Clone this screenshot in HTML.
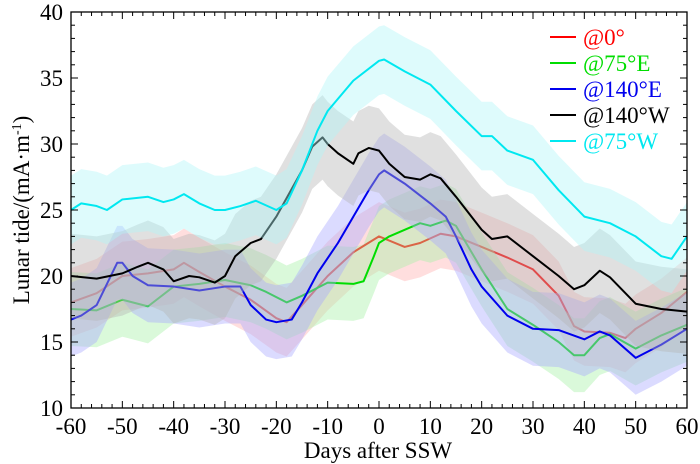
<!DOCTYPE html>
<html><head><meta charset="utf-8"><style>
body{margin:0;background:#fff}
svg{display:block;font-family:"Liberation Serif",serif}
</style></head><body>
<svg id="chart" width="700" height="464"></svg>
<script>
const redDays=[-60,-55,-50,-45,-40,-38,-35,-30,-25,-20,-18,-15,-10,-5,0,5,8,12,15,20,25,30,35,38,40,45,48,50,55,60];
const redVals=[18,18.7,20,20.2,20.5,21,20.3,19.2,18.2,16.8,16.5,17.8,20,21.8,23,22.2,22.5,23.2,23,22.2,21.4,20.5,18.5,16.2,15.8,15.7,15.3,16,17.2,18.8];
const greenDays=[-60,-55,-50,-45,-40,-35,-30,-25,-22,-18,-15,-10,-5,-3,-1,0,2,5,8,10,13,15,20,25,30,35,38,40,43,45,50,55,60];
const greenVals=[17.5,17.4,18.2,17.7,19.2,19.4,19.7,19.3,18.8,18,18.5,19.5,19.4,19.6,21.5,22.5,23,23.5,24,23.8,24.2,23.8,20.5,17.5,16.3,15,14,14,15.3,15.6,14.5,15.5,16.3];
const blueDays=[-60,-58,-55,-51,-50,-48,-45,-40,-35,-30,-27,-25,-22,-20,-17,-15,-12,-8,-5,-2,0,1,5,10,13,15,18,20,25,30,35,40,43,45,50,55,60];
const blueVals=[16.7,17,17.8,21,21,20,19.3,19.2,18.9,19.2,19.2,17.8,16.7,16.5,16.7,18,20.2,22.5,24.5,26.5,27.7,28,27,25.5,24.5,23,20.5,19.2,17,16,15.9,15.2,15.8,15.5,13.8,14.8,16];
const blackDays=[-60,-55,-50,-47,-45,-42,-40,-37,-35,-32,-30,-28,-25,-23,-20,-15,-13,-11,-10,-8,-5,-4,-2,0,2,5,8,10,12,15,20,22,25,30,35,38,40,43,45,50,55,60];
const blackVals=[20,19.8,20.2,20.7,21,20.5,19.6,20,19.9,19.5,20,21.5,22.5,22.8,24.5,28,29.8,30.5,30,29.3,28.5,29.3,29.7,29.5,28.5,27.5,27.3,27.7,27.4,26,23.5,22.8,23,21.5,20,19,19.3,20.4,19.9,17.9,17.5,17.3];
const cyanDays=[-60,-58,-55,-53,-50,-45,-42,-40,-38,-35,-32,-30,-27,-24,-20,-18,-15,-12,-10,-5,0,1,5,10,15,20,22,25,30,35,40,45,50,55,57,60];
const cyanVals=[25,25.5,25.3,25,25.8,26,25.6,25.8,26.2,25.5,25,25,25.3,25.7,25,25.5,28,31,32.5,34.8,36.3,36.4,35.5,34.5,32.5,30.6,30.6,29.5,28.8,26.5,24.5,24,23,21.5,21.3,23];
const halfWidths=[2.6,2.8,2.8,3.2,2.6];
const legendLabels=["@0°","@75°E","@140°E","@140°W","@75°W"];
const xTicks=[-60,-50,-40,-30,-20,-10,0,10,20,30,40,50,60];
const yTicks=[10,15,20,25,30,35,40];

const NS="http://www.w3.org/2000/svg";
const svg=document.getElementById('chart');
const L=71,R=687,T=12,B=408;
const xs=d=>L+(d+60)/120*(R-L);
const ys=v=>B-(v-10)/30*(B-T);
function mk(tag,attrs,parent){const e=document.createElementNS(NS,tag);for(const k in attrs)e.setAttribute(k,attrs[k]);(parent||svg).appendChild(e);return e;}

const series=[
 {d:redDays,v:redVals,c:"#ff0000",band:"#ffb0b0",name:"red"},
 {d:greenDays,v:greenVals,c:"#00dd00",band:"#a8f0a8",name:"green"},
 {d:blueDays,v:blueVals,c:"#0000ee",band:"#aaaaff",name:"blue"},
 {d:blackDays,v:blackVals,c:"#000000",band:"#b4b4b4",name:"black"},
 {d:cyanDays,v:cyanVals,c:"#00e8f0",band:"#b0f6f8",name:"cyan"}];

series.forEach((s,i)=>{
  const hw=halfWidths[i];
  let up=s.d.map((d,j)=>xs(d)+","+ys(s.v[j]+hw));
  let lo=s.d.map((d,j)=>xs(d)+","+ys(s.v[j]-hw)).reverse();
  const band=mk('polygon',{points:up.concat(lo).join(' '),fill:s.band,'fill-opacity':0.42});
  
  
  const line=mk('polyline',{points:s.d.map((d,j)=>xs(d)+","+ys(s.v[j])).join(' '),fill:'none',stroke:s.c,'stroke-width':2,'stroke-linejoin':'round'});
  
  
});

const frame=mk('rect',{x:L,y:T,width:R-L,height:B-T,fill:'none',stroke:'#000','stroke-width':1.3});


for(let d=-60;d<=60;d+=2){const maj=d%10===0;const len=maj?7:4;
  mk('line',{x1:xs(d),x2:xs(d),y1:B,y2:B-len,stroke:'#000','stroke-width':1});
  mk('line',{x1:xs(d),x2:xs(d),y1:T,y2:T+len,stroke:'#000','stroke-width':1});}
for(let v=10;v<=40;v+=1){const maj=v%5===0;const len=maj?7:4;
  mk('line',{x1:L,x2:L+len,y1:ys(v),y2:ys(v),stroke:'#000','stroke-width':1});
  mk('line',{x1:R,x2:R-len,y1:ys(v),y2:ys(v),stroke:'#000','stroke-width':1});}
xTicks.forEach(t=>{const e=mk('text',{x:xs(t),y:434,'text-anchor':'middle','font-size':23});e.textContent=String(t);
  
  });
yTicks.forEach(t=>{const e=mk('text',{x:63,y:ys(t)+8,'text-anchor':'end','font-size':23});e.textContent=String(t);
  
  });
const xt=mk('text',{x:378,y:458,'text-anchor':'middle','font-size':23});xt.textContent="Days after SSW";


const yt=mk('text',{x:0,y:0,'text-anchor':'middle','font-size':23,transform:'translate(29,210) rotate(-90)'});
yt.innerHTML='Lunar tide/(mA·m<tspan dy="-8" font-size="14">-1</tspan><tspan dy="8">)</tspan>';


series.forEach((s,i)=>{const y=37+i*26;
  const g=mk('g',{});
  
  
  mk('line',{x1:550,x2:576,y1:y,y2:y,stroke:s.c,'stroke-width':2},g);
  const t=mk('text',{x:583,y:y+8,'font-size':23,fill:s.c},g);t.textContent=legendLabels[i];});
</script>
</body></html>
